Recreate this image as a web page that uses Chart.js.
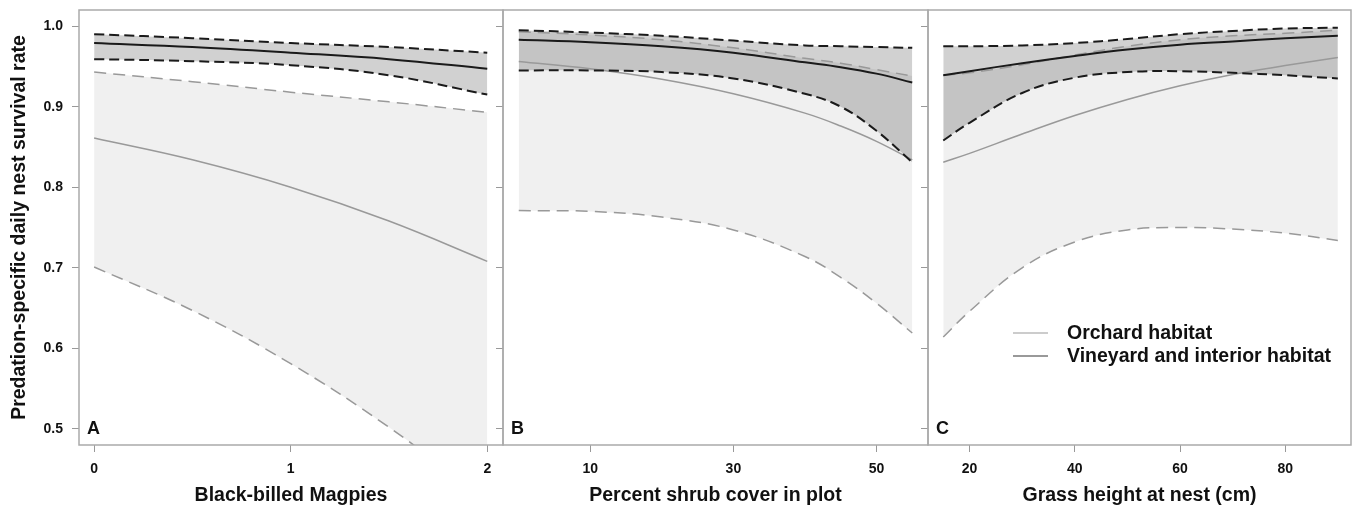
<!DOCTYPE html>
<html>
<head>
<meta charset="utf-8">
<script src="https://cdn.jsdelivr.net/npm/chart.js@4.4.0/dist/chart.umd.min.js"></script>
<style>
  body { margin: 0; background: #fff; }
  #wrap { position: relative; width: 1353px; height: 507px; }
  #wrap canvas { position: absolute; left: 0; top: 0; }
</style>
</head>
<body>
<div id="wrap">
  <canvas id="panelA" width="1353" height="507"></canvas>
  <canvas id="panelB" width="1353" height="507"></canvas>
  <canvas id="panelC" width="1353" height="507"></canvas>
</div>
<script>
// values
const yTicks = [0.5, 0.6, 0.7, 0.8, 0.9, 1.0];

// A - magpies
const magpieTicks = [0, 1, 2];
const magpieX = [0, 0.5, 1, 1.5, 2];
const magpieVineMean = [0.979, 0.974, 0.967, 0.959, 0.947];
const magpieVineUpper = [0.990, 0.985, 0.979, 0.974, 0.967];
const magpieVineLower = [0.959, 0.9565, 0.9515, 0.939, 0.915];
const magpieOrchMean = [0.861, 0.834, 0.800, 0.758, 0.708];
const magpieOrchUpper = [0.943, 0.931, 0.918, 0.906, 0.893];
const magpieOrchLower = [0.701, 0.647, 0.581, 0.502, 0.41];

// B - shrub cover
const shrubTicks = [10, 30, 50];
const shrubX = [0, 10, 20, 30, 40, 45, 50, 55];
const shrubVineMean = [0.983, 0.980, 0.975, 0.967, 0.955, 0.949, 0.941, 0.930];
const shrubVineUpper = [0.995, 0.992, 0.988, 0.982, 0.976, 0.975, 0.974, 0.973];
const shrubVineLower = [0.945, 0.945, 0.943, 0.935, 0.916, 0.900, 0.870, 0.831];
const shrubOrchMean = [0.956, 0.947, 0.934, 0.916, 0.892, 0.876, 0.857, 0.834];
const shrubOrchUpper = [0.993, 0.989, 0.983, 0.973, 0.960, 0.954, 0.946, 0.938];
const shrubOrchLower = [0.771, 0.770, 0.763, 0.747, 0.714, 0.688, 0.656, 0.619];

// C - grass height
const grassTicks = [20, 40, 60, 80];
const grassX = [15, 20, 30, 40, 50, 60, 70, 80, 90];
const grassVineMean = [0.939, 0.944, 0.954, 0.963, 0.971, 0.977, 0.981, 0.985, 0.988];
const grassVineUpper = [0.975, 0.975, 0.976, 0.979, 0.984, 0.990, 0.994, 0.997, 0.998];
const grassVineLower = [0.858, 0.880, 0.917, 0.936, 0.943, 0.944, 0.942, 0.939, 0.935];
const grassOrchMean = [0.831, 0.842, 0.866, 0.889, 0.909, 0.926, 0.940, 0.951, 0.961];
const grassOrchUpper = [0.939, 0.942, 0.952, 0.964, 0.975, 0.983, 0.988, 0.991, 0.995];
const grassOrchLower = [0.614, 0.646, 0.700, 0.732, 0.747, 0.750, 0.748, 0.743, 0.734];

const legendLabels = ['Orchard habitat', 'Vineyard and interior habitat'];

const FAMILY = '"Liberation Sans", Arial, sans-serif';
Chart.defaults.font.family = FAMILY;
Chart.defaults.color = '#111';

const boldFont = size => ({ family: FAMILY, size: size, weight: 'bold' });

function pts(xs, ys) {
  return xs.map((x, i) => ({ x: x, y: ys[i] }));
}

function makeDatasets(xs, vMean, vUp, vLow, oMean, oUp, oLow) {
  const base = { pointRadius: 0, tension: 0.4, fill: false };
  return [
    { ...base, label: 'vine', data: pts(xs, vMean), borderColor: '#1a1a1a', borderWidth: 2 },
    { ...base, label: 'vine up', data: pts(xs, vUp), borderColor: '#1a1a1a', borderWidth: 2,
      borderDash: [10, 5], fill: 2, backgroundColor: 'rgba(0,0,0,0.18)' },
    { ...base, label: 'vine low', data: pts(xs, vLow), borderColor: '#1a1a1a', borderWidth: 2, borderDash: [10, 5] },
    { ...base, label: 'orch', data: pts(xs, oMean), borderColor: '#999', borderWidth: 1.5 },
    { ...base, label: 'orch up', data: pts(xs, oUp), borderColor: '#999', borderWidth: 1.5,
      borderDash: [12, 7], fill: 5, backgroundColor: '#f0f0f0' },
    { ...base, label: 'orch low', data: pts(xs, oLow), borderColor: '#999', borderWidth: 1.5, borderDash: [12, 7] }
  ];
}

// box around the panel, the letter and (panel C) the legend
const framePlugin = {
  id: 'frame',
  afterDraw(chart, args, opts) {
    const ctx = chart.ctx;
    const a = chart.chartArea;
    ctx.save();
    ctx.strokeStyle = '#aaa';
    ctx.lineWidth = 1.5;
    ctx.strokeRect(a.left, a.top, a.right - a.left, a.bottom - a.top);
    ctx.fillStyle = '#111';
    ctx.font = 'bold 18px ' + FAMILY;
    ctx.textBaseline = 'middle';
    ctx.fillText(opts.letter, a.left + 8, chart.scales.y.getPixelForValue(0.5));
    if (opts.legend) {
      const colors = ['#cccccc', '#999999'];
      ctx.font = 'bold 19.5px ' + FAMILY;
      legendLabels.forEach((txt, i) => {
        const y = 333 + i * 23;
        ctx.strokeStyle = colors[i];
        ctx.lineWidth = 2;
        ctx.beginPath();
        ctx.moveTo(1013, y);
        ctx.lineTo(1048, y);
        ctx.stroke();
        ctx.fillText(txt, 1067, y + 1);
      });
    }
    ctx.restore();
  }
};

function makePanel(id, cfg) {
  const tickGrid = { drawOnChartArea: false, drawTicks: true, tickLength: 7, color: '#999', lineWidth: 1 };
  new Chart(document.getElementById(id), {
    type: 'line',
    data: { datasets: makeDatasets(...cfg.series) },
    plugins: [framePlugin],
    options: {
      responsive: false,
      animation: false,
      devicePixelRatio: 1,
      layout: { padding: { left: cfg.padLeft, right: cfg.padRight, top: 10, bottom: 0 } },
      plugins: {
        legend: { display: false },
        tooltip: { enabled: false },
        filler: { drawTime: 'beforeDatasetsDraw' },
        frame: { letter: cfg.letter, legend: cfg.legend }
      },
      scales: {
        x: {
          type: 'linear',
          min: cfg.xMin,
          max: cfg.xMax,
          afterBuildTicks: s => { s.ticks = cfg.xTicks.map(v => ({ value: v })); },
          afterFit: s => { s.height = 62; s.paddingLeft = 0; s.paddingRight = 0; },
          grid: tickGrid,
          border: { display: false },
          ticks: { padding: 9, font: boldFont(14), color: '#111', callback: v => String(v) },
          title: { display: true, text: cfg.xTitle, font: boldFont(19.5), color: '#111', padding: { top: 2, bottom: 0 } }
        },
        y: {
          type: 'linear',
          min: 0.48,
          max: 1.02,
          afterBuildTicks: s => { s.ticks = yTicks.map(v => ({ value: v })); },
          afterFit: s => { s.width = cfg.yWidth; s.paddingTop = 0; s.paddingBottom = 0; },
          grid: tickGrid,
          border: { display: false },
          ticks: { display: cfg.yLabels, padding: 9, font: boldFont(14), color: '#111', callback: v => v.toFixed(1) },
          title: { display: cfg.yLabels, text: 'Predation-specific daily nest survival rate', font: boldFont(19.5), color: '#111', padding: { top: 8, bottom: 2 } }
        }
      }
    }
  });
}

makePanel('panelA', {
  letter: 'A', padLeft: 0, padRight: 850, yWidth: 79, yLabels: true,
  xMin: -0.077, xMax: 2.08, xTicks: magpieTicks, xTitle: 'Black-billed Magpies',
  series: [magpieX, magpieVineMean, magpieVineUpper, magpieVineLower, magpieOrchMean, magpieOrchUpper, magpieOrchLower]
});

makePanel('panelB', {
  letter: 'B', padLeft: 495, padRight: 425, yWidth: 8, yLabels: false,
  xMin: -2.2, xMax: 57.2, xTicks: shrubTicks, xTitle: 'Percent shrub cover in plot',
  series: [shrubX, shrubVineMean, shrubVineUpper, shrubVineLower, shrubOrchMean, shrubOrchUpper, shrubOrchLower]
});

makePanel('panelC', {
  letter: 'C', padLeft: 920, padRight: 2, yWidth: 8, yLabels: false, legend: true,
  xMin: 12.1, xMax: 92.5, xTicks: grassTicks, xTitle: 'Grass height at nest (cm)',
  series: [grassX, grassVineMean, grassVineUpper, grassVineLower, grassOrchMean, grassOrchUpper, grassOrchLower]
});
</script>
</body>
</html>
